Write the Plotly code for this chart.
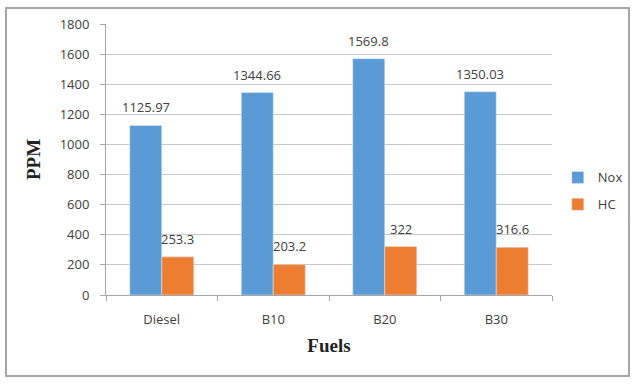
import plotly.graph_objects as go

categories = ["Diesel", "B10", "B20", "B30"]
nox = [1125.97, 1344.66, 1569.8, 1350.03]
hc = [253.3, 203.2, 322, 316.6]
nox_labels = ["1125.97", "1344.66", "1569.8", "1350.03"]
hc_labels = ["253.3", "203.2", "322", "316.6"]

BLUE = "#5B9BD5"
ORANGE = "#ED7D31"
TXT = "#404040"

fig = go.Figure()
fig.add_trace(go.Bar(x=categories, y=nox, name="Nox", marker_color=BLUE,
                     legendgroup="a"))
fig.add_trace(go.Bar(x=categories, y=hc, name="HC", marker_color=ORANGE,
                     legendgroup="b"))

annotations = []
for c, v, t in zip(categories, nox, nox_labels):
    annotations.append(dict(x=c, y=v, text=t, xref="x", yref="y", showarrow=False,
                            xshift=-16, yshift=7, yanchor="bottom",
                            font=dict(family="Open Sans", size=13, color=TXT)))
for c, v, t in zip(categories, hc, hc_labels):
    annotations.append(dict(x=c, y=v, text=t, xref="x", yref="y", showarrow=False,
                            xshift=16, yshift=7, yanchor="bottom",
                            font=dict(family="Open Sans", size=13, color=TXT)))

fig.update_layout(
    width=634, height=388,
    margin=dict(l=106, r=82, t=24, b=93, autoexpand=False),
    paper_bgcolor="white", plot_bgcolor="white",
    barmode="group", bargap=0.426, bargroupgap=0,
    annotations=annotations,
    showlegend=True,
    legend=dict(x=1.013, y=0.384, xanchor="left", yanchor="middle",
                font=dict(family="Open Sans", size=13, color=TXT),
                traceorder="grouped", tracegroupgap=7, itemwidth=30),
    shapes=[dict(type="rect", xref="paper", yref="paper",
                 x0=-0.2242, x1=1.1726, y0=-0.2989, y1=1.059,
                 line=dict(color="#A6A6A6", width=2), layer="below")],
)
fig.update_xaxes(
    automargin=False,
    showline=True, linecolor="#A6A6A6", linewidth=1,
    ticks="outside", tickson="boundaries", ticklen=5, tickcolor="#A6A6A6",
    ticklabelstandoff=12,
    tickfont=dict(family="Open Sans", size=13, color=TXT),
    title=dict(text="<b>Fuels</b>", font=dict(family="Liberation Serif", size=19, color="#222"),
               standoff=12),
    showgrid=False,
)
fig.update_yaxes(
    automargin=False,
    range=[0, 1800], dtick=200,
    showline=True, linecolor="#A6A6A6", linewidth=1,
    ticks="outside", ticklen=5, tickcolor="#A6A6A6",
    ticklabelstandoff=8,
    tickfont=dict(family="Open Sans", size=13, color=TXT),
    showgrid=True, gridcolor="#C8C8C8", gridwidth=1,
    zeroline=False,
    title=dict(text="<b>PPM</b>", font=dict(family="Liberation Serif", size=19, color="#222"),
               standoff=14),
)

fig.write_html("out.html")
